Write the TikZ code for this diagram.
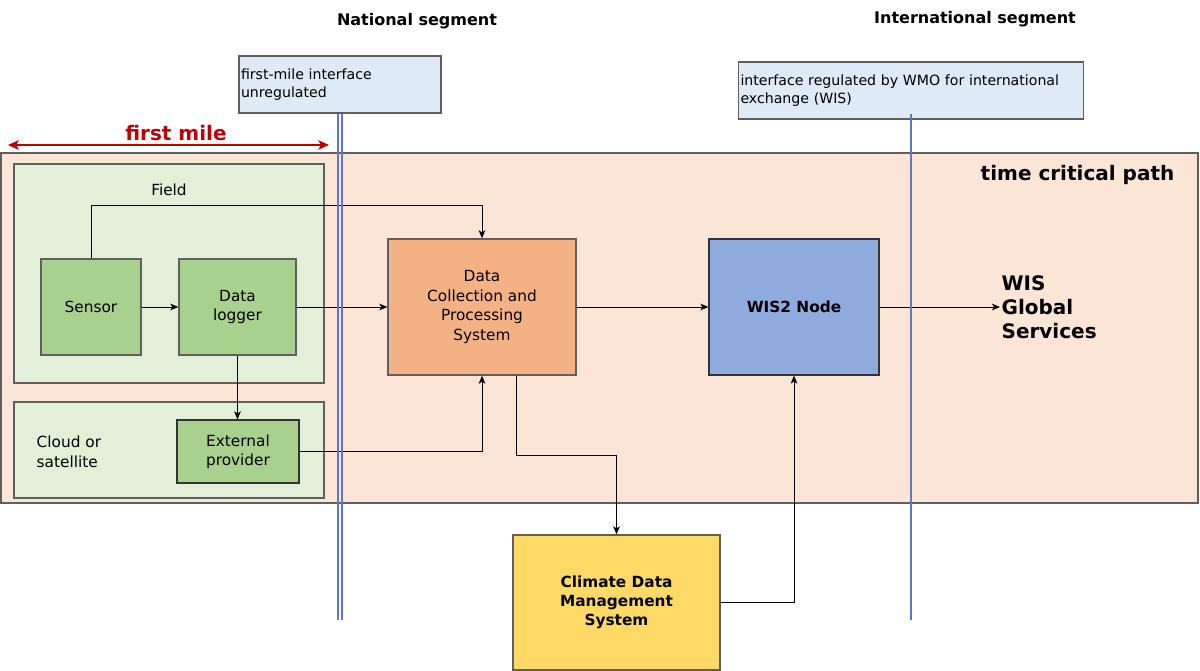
\documentclass[tikz,border=0pt]{standalone}
\usepackage{fontspec}
\setmainfont{DejaVu Sans}
\usetikzlibrary{arrows.meta}

\definecolor{pathfill}{HTML}{FBE5D6}
\definecolor{zonefill}{HTML}{E2EFD9}
\definecolor{devfill}{HTML}{A9D18E}
\definecolor{dcpsfill}{HTML}{F4B183}
\definecolor{wisfill}{HTML}{8FAADC}
\definecolor{cdmsfill}{HTML}{FFD966}
\definecolor{iffill}{HTML}{DEEAF6}
\definecolor{ifline}{RGB}{90,120,205}
\definecolor{milered}{HTML}{C00000}
\definecolor{edge}{RGB}{95,95,95}

\newcommand{\boxfont}{\fontsize{11.5}{14.6}\selectfont}
\newcommand{\smallfont}{\fontsize{10.6}{13.5}\selectfont}
\newcommand{\bigbold}{\fontsize{15}{18.2}\selectfont\bfseries}

\tikzset{
  zone/.style={draw=edge, line width=1pt, fill=zonefill},
  device/.style={draw=edge, line width=1pt, fill=devfill, align=center, font=\boxfont},
  conn/.style={draw=black, line width=0.75pt, -{Stealth[length=6pt,width=5pt,inset=1.5pt]}},
  iface/.style={draw=edge, line width=1pt, fill=iffill, align=left, font=\smallfont,
    inner xsep=1.5pt, minimum height=42.75pt},
  segline/.style={draw=ifline, line width=1.25pt}
}

\begin{document}
\begin{tikzpicture}[x=0.75pt,y=-0.75pt]
    \useasboundingbox (0,0) rectangle (1200,671);

    % segment titles
    \node[font=\fontsize{12}{14}\selectfont\bfseries] (natseg) at (417,21) {National segment};
    \node[font=\fontsize{12}{14}\selectfont\bfseries] (intseg) at (975,19) {International segment};

    % time critical path
    \draw[draw=edge, line width=0.9pt, fill=pathfill] (1,153) rectangle (1198,503);
    \node[font=\bigbold, anchor=east] (tcp) at (1179,175) {time critical path};

    % field and cloud zones
    \draw[zone] (14,164) rectangle (324,383);
    \draw[zone] (14,402) rectangle (324,498);
    \node[font=\boxfont] (fieldlbl) at (169,190) {Field};
    \node[font=\boxfont, align=left, anchor=west] (cloudlbl) at (32,452) {Cloud or\\satellite};

    % boxes
    \node[device, minimum width=75pt, minimum height=72pt] (sensor) at (91,307) {Sensor};
    \node[device, minimum width=87.75pt, minimum height=72pt] (logger) at (237.5,307) {Data\\logger};
    \node[device, draw=black!80, line width=0.9pt, minimum width=91.5pt, minimum height=47.25pt] (ext) at (238,451.5) {External\\provider};
    \node[device, fill=dcpsfill, minimum width=141pt, minimum height=102pt] (dcps) at (482,307) {Data\\Collection and\\Processing\\System};
    \node[device, fill=wisfill, draw=black!80, line width=0.9pt, font=\fontsize{11.5}{14.6}\selectfont\bfseries, minimum width=127.5pt, minimum height=102pt] (wis) at (794,307) {WIS2 Node};
    \node[device, fill=cdmsfill, font=\fontsize{11.5}{14.3}\selectfont\bfseries, minimum width=155.25pt, minimum height=101.25pt] (cdms) at (616.5,602.5) {Climate Data\\Management\\System};
    \node[font=\bigbold, align=left, anchor=west, inner sep=1pt] (gs) at (1000,307) {WIS\\Global\\Services};

    % connectors
    \draw[conn] (sensor.north) -- ++(0,-53) -| (dcps.north);
    \draw[conn] (sensor.east) -- (logger.west);
    \draw[conn] (logger.east) -- (dcps.west);
    \draw[conn] (logger.south) -- (logger.south |- ext.north);
    \draw[conn] (ext.east) -| (dcps.south);
    \draw[conn] ([xshift=25.5pt]dcps.south) -- ++(0,80) -| (cdms.north);
    \draw[conn] (dcps.east) -- (wis.west);
    \draw[conn] (wis.east) -- (gs.west);
    \draw[conn] (cdms.east) -| (wis.south);

    % interfaces
    \node[iface, text width=148.5pt] (ifnat) at (340,84.5) {first-mile interface\\unregulated};
    \node[iface, text width=255.75pt] (ifint) at (911,90.5) {interface regulated by WMO for international\\exchange (WIS)};
    \coordinate (segend) at (0,620);
    \draw[segline] ([xshift=-1.3pt]ifnat.south) -- ([xshift=-1.3pt]ifnat.south |- segend);
    \draw[segline] ([xshift=1.3pt]ifnat.south) -- ([xshift=1.3pt]ifnat.south |- segend);
    \draw[segline, line width=1.5pt] ([yshift=4.5pt]ifint.south) -- (ifint.south |- segend);

    % first mile
    \coordinate (fmleft) at (8,145);
    \coordinate (fmright) at (329,145);
    \draw[draw=milered, line width=1.5pt, {Stealth[length=8pt,width=7pt,inset=2pt]}-{Stealth[length=8pt,width=7pt,inset=2pt]}] (fmleft) -- (fmright);
    \node[font=\bigbold, text=milered] (fmlbl) at (176,133) {first mile};
\end{tikzpicture}
\end{document}
